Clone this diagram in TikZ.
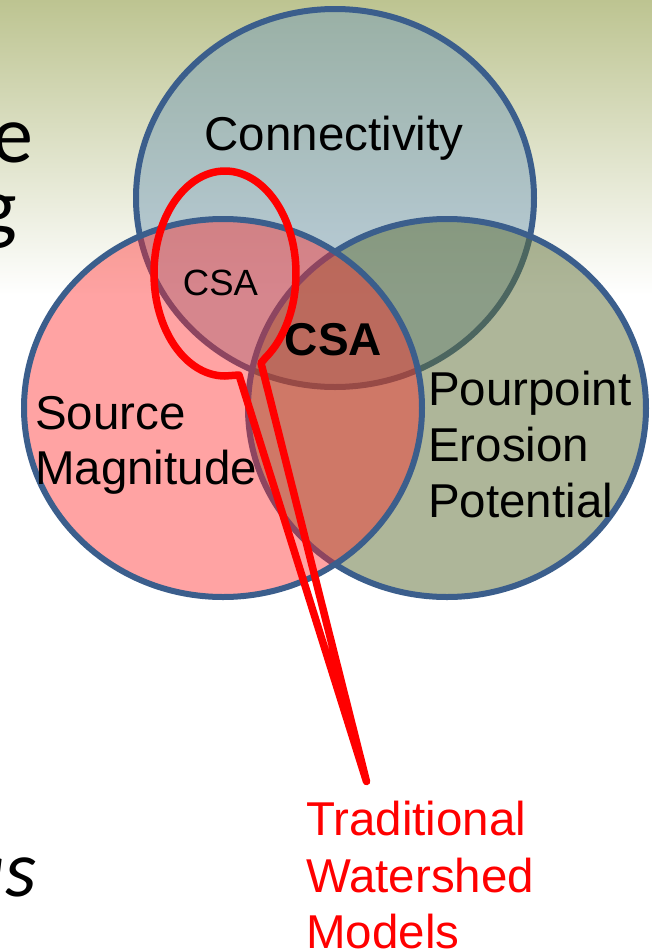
\documentclass[tikz,border=0pt]{standalone}
\usepackage{fontspec}
\setmainfont{Liberation Sans}
\newfontfamily\calib{Carlito}
\definecolor{bgtop}{RGB}{189,196,145}
\definecolor{rim}{RGB}{59,94,140}
\definecolor{topfill}{RGB}{118,156,182}
\definecolor{leftfill}{RGB}{255,36,36}
\definecolor{rightfill}{RGB}{94,110,53}
\definecolor{callred}{RGB}{255,0,0}
\begin{document}
\begin{tikzpicture}[x=1pt,y=-1pt,
  venn/.style={draw=rim, line width=6pt},
  lbl/.style={inner sep=0pt, anchor=base west, font=\fontsize{47.5}{56}\selectfont},
  redlbl/.style={lbl, text=callred},
  slide/.style={inner sep=0pt, anchor=base west, font=\calib\fontsize{82}{90}\selectfont},
  callout/.style={draw=callred, line width=7.5pt, line join=round, line cap=round}]
\useasboundingbox (0,0) rectangle (652,951);
\fill[white] (0,0) rectangle (652,951);
\shade[top color=bgtop, bottom color=white] (0,0) rectangle (652,295);

% slide text fragments cut at the left edge
\node[slide] (fe) at (-8,162) {e};
\node[slide] (fg) at (-22,234) {g};
\node[slide, font=\calib\itshape\fontsize{80}{90}\selectfont] (fas) at (-36,896) {as};

% Venn circles
\draw[venn, fill=topfill, fill opacity=0.5] (335,198) ellipse [x radius=199pt, y radius=189pt];
\draw[venn, fill=rightfill, fill opacity=0.5] (447,408) ellipse [x radius=199pt, y radius=189pt];
\draw[venn, fill=leftfill, fill opacity=0.42] (223,408) ellipse [x radius=199pt, y radius=189pt];

% labels
\node[lbl, anchor=base] (conn) at (334,150) {Connectivity};
\node[inner sep=0pt, anchor=base, font=\fontsize{36.5}{40}\selectfont] (csa1) at (220.5,295) {CSA};
\node[inner sep=0pt, anchor=base, font=\bfseries\fontsize{46}{50}\selectfont] (csa2) at (333.5,355) {CSA};
\node[lbl] (src1) at (35,429) {Source};
\node[lbl] (src2) at (35,484) {Magnitude};
\node[lbl] (pp1) at (428,405) {Pourpoint};
\node[lbl] (pp2) at (428,461) {Erosion};
\node[lbl] (pp3) at (428,517) {Potential};

% callout balloon
\coordinate (tip) at (366.5,781.5);
\draw[callout] (tip) -- (239,375) -- plot[domain=90:415, samples=140] ({225+71*cos(\x)},{273.5+102.5*sin(\x)}) -- (261,363) -- cycle;

\node[redlbl] (tw1) at (306,835.5) {Traditional};
\node[redlbl] (tw2) at (306,892) {Watershed};
\node[redlbl] (tw3) at (306,948) {Models};
\end{tikzpicture}
\end{document}
